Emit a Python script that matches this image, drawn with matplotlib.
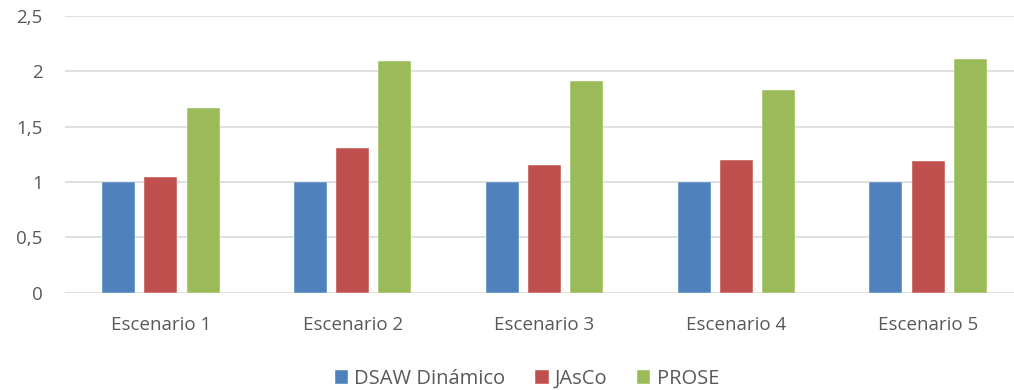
import numpy as np
import matplotlib
matplotlib.use("Agg")
import matplotlib.pyplot as plt

categories = ["Escenario 1", "Escenario 2", "Escenario 3", "Escenario 4", "Escenario 5"]
dsaw = [1.0, 1.0, 1.0, 1.0, 1.0]
jasco = [1.045, 1.31, 1.155, 1.195, 1.185]
prose = [1.665, 2.09, 1.91, 1.83, 2.11]

series_names = ["DSAW Dinámico", "JAsCo", "PROSE"]
colors = ["#4F81BD", "#C0504D", "#9BBB59"]

plt.rcParams['font.family'] = ['Open Sans', 'DejaVu Sans']

fig = plt.figure(figsize=(10.14, 3.9), dpi=100)
# axes run slightly past the right edge, like the cropped original
ax = fig.add_axes([65 / 1014, 97.5 / 390, 959 / 1014, 276.5 / 390])

x = np.arange(len(categories))
width = 0.172
step = 0.22
for i, (vals, name, col) in enumerate(zip([dsaw, jasco, prose], series_names, colors)):
    ax.bar(x + (i - 1) * step, vals, width, color=col, label=name,
           edgecolor='white', linewidth=0.3, zorder=3)

ax.set_xlim(-0.5, 4.5)
ax.set_ylim(0, 2.5)
ax.set_yticks([0, 0.5, 1, 1.5, 2, 2.5])
ax.set_yticklabels(["0", "0,5", "1", "1,5", "2", "2,5"])
ax.set_xticks(x)
ax.set_xticklabels(categories)

ax.grid(axis='y', color='#d9d9d9', linewidth=1.2, zorder=0)
for s in ['top', 'right', 'left', 'bottom']:
    ax.spines[s].set_visible(False)
ax.tick_params(axis='both', length=0, labelsize=13.5, colors='#595959')
ax.tick_params(axis='y', pad=16)
ax.tick_params(axis='x', pad=17)

fig.legend(loc='center', bbox_to_anchor=(527 / 1014, 11 / 390), ncol=3,
           frameon=False, fontsize=14.5, handlelength=0.65, handleheight=0.65,
           handletextpad=0.3, columnspacing=1.5, labelcolor='#595959')

fig.savefig("out.png", dpi=100)
